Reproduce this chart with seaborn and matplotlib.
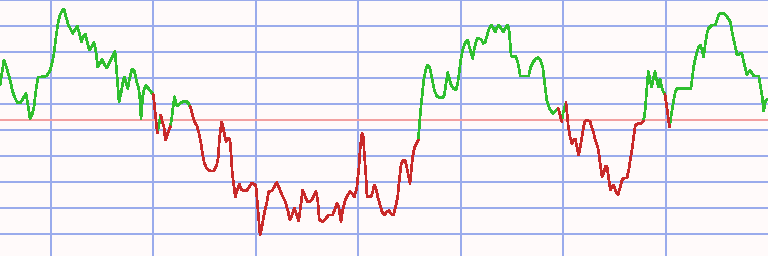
import numpy as np
import pandas as pd
import matplotlib
matplotlib.use("Agg")
import matplotlib.pyplot as plt
from matplotlib.ticker import MultipleLocator
import seaborn as sns

# ---- data (t = time position, v = value) ----
t = [0, 4, 6.7, 10, 12.7, 15, 17.3, 20.7, 24, 26, 28, 30, 32, 34, 36, 38, 46.7, 50, 52, 54,
     56, 58, 60, 62, 64, 66, 68.3, 70.7, 72.7, 75, 77.3, 79.3, 81.3, 83.3, 85.3, 87.3, 89.3, 91.7, 94, 96,
     97.7, 100, 102, 104.3, 106.7, 109, 111, 113.3, 115, 116.7, 119, 121, 122.7, 124.3, 126, 127.7, 130, 132, 134.3, 136.7,
     138.7, 140, 141, 142.7, 144.3, 146, 148.3, 151, 153.3, 157.3, 160.7, 162.3, 164, 165.3, 166.3, 167.7, 169, 170.3, 171.7, 173.3,
     174.5, 176, 177.3, 179, 181, 183.3, 186.7, 188.3, 190.3, 194.5, 196.7, 199, 201, 202.7, 204.3, 206.7, 210, 214, 216.7, 218.3,
     219.3, 220.7, 221.7, 223, 224.3, 226, 227.3, 228.7, 230, 231, 232.3, 234, 235.3, 237.3, 239.3, 241.7, 246.7, 249.3, 251.7, 254,
     256, 257.7, 260, 262, 264.3, 266.7, 268.7, 272, 274.3, 276.7, 279.3, 282, 285.3, 287.7, 290, 292.7, 294.3, 296.7, 298.7, 301,
     302.7, 305.3, 307.7, 311, 313.3, 316, 317.7, 319.3, 322.7, 326, 328.7, 332.7, 335.3, 337, 338.7, 341, 342.7, 345.3, 347.7, 350,
     352.7, 354.3, 356.7, 358.7, 360.3, 362, 363.3, 364.3, 366, 367, 371, 372.7, 374.3, 376, 377.7, 380, 382, 384.3, 386.7, 388.7,
     391, 393.3, 395.3, 397.7, 399.3, 401, 402.7, 405, 406.7, 408.3, 410, 411.3, 412.7, 414.3, 416.7, 418.3, 420.3, 422, 423.7, 426,
     427.7, 429.3, 431, 432.7, 434.3, 436.7, 439.3, 442.7, 444.3, 446, 447.7, 449.3, 451, 453.3, 456, 457.7, 459.3, 461, 462.7, 465,
     467.7, 469.3, 471, 472.7, 474.3, 476, 477.7, 481, 483.3, 485.3, 487.7, 489.3, 491, 493.3, 495.3, 496.7, 498.7, 501, 503.3, 505.3,
     507.7, 509.3, 511, 512, 516, 518, 520.3, 528.7, 530.3, 532.7, 535.3, 538, 540.3, 542.7, 544.3, 546.7, 549.3, 551.7, 553.3, 555,
     556.7, 558.3, 561.7, 563.3, 566, 568.3, 570, 572, 573.7, 575.3, 577, 578.7, 580.3, 582, 583.7, 585, 586.7, 590, 592, 593.7,
     595.3, 598, 599.3, 600.3, 602, 603.7, 605.3, 607, 608.7, 610.3, 612, 613.7, 615.3, 618, 620.3, 622, 623.7, 627, 628.7, 630.3,
     632, 633.7, 635.3, 638, 641, 643.5, 645, 646.7, 648.3, 650, 651.7, 653.3, 655, 656.7, 658.3, 660, 661.7, 663.3, 665, 669.5,
     672, 673.7, 675.3, 677, 691, 692, 693.7, 695.3, 697, 698.7, 700.3, 702, 703.7, 705.3, 707, 708.7, 710.3, 712, 715.3, 717,
     718.7, 720.3, 723.7, 727, 730.3, 732, 733.7, 735.3, 737, 738.7, 740.3, 742, 743.7, 745.3, 747, 748.7, 750.3, 752, 753.7, 758.7,
     760.3, 762, 763.7, 765.5, 768]

v = [45, 70, 61.7, 50, 38.3, 31.7, 27.7, 27.7, 33.3, 36.7, 25, 11.5, 15, 23.3, 40, 52.7, 54, 59.3, 66.7, 76.7,
     93.3, 106.7, 115, 119, 121, 113.3, 105, 100.7, 96.7, 100, 104, 96.7, 88.3, 93.3, 95.7, 88.3, 80, 83.3, 87.3, 78.3,
     63.3, 66.7, 70.7, 66, 62.3, 66.7, 70.7, 75, 78.3, 58.3, 28.3, 36.7, 46.7, 52.7, 47.3, 41.7, 53.3, 61, 59, 48.3,
     41.7, 30, 11.7, 33.3, 41.7, 44.3, 41.7, 38.3, 35.5, -3, 15, 8.3, 3.3, -10, -8.3, -3.3, 0, 3.3, 11.7, 25,
     33.3, 26.7, 24, 26, 27.3, 28.3, 28.3, 26.7, 23.3, 8, 5, -3.3, -13.3, -25, -33.3, -38.3, -41, -41, -35, -26.7,
     -10, 2, 8, 3, -3.3, -11.7, -10, -8.3, -10, -23.3, -43.3, -56.7, -66.7, -60, -54.3, -60, -60.7, -56.7, -53.3, -54,
     -56, -76.7, -105, -96.7, -83.3, -73.3, -61.7, -60.7, -56.7, -52.7, -58.3, -65, -71.7, -80, -90, -83.3, -78.3, -85, -90.7, -73.3,
     -60, -66.7, -71.7, -71, -66.7, -61.7, -70, -90, -91.7, -88.3, -85, -85, -78.3, -73.3, -76.7, -91.7, -80, -70, -65, -61.7,
     -64.3, -66.7, -58.3, -40, -16.7, -3.3, -6.7, -23.3, -46.7, -66.7, -66.7, -61.7, -55, -58.3, -66.7, -75, -81.7, -85, -81.7, -80.7,
     -83.3, -85, -78.3, -66.7, -50, -35, -31, -30, -36.7, -45, -53.3, -40, -26.7, -18.3, -12.7, -10, 16.7, 33.3, 50, 61.7,
     65, 63.3, 56.7, 48.3, 40, 34, 32.3, 32.3, 35, 46.7, 57.3, 51.7, 45, 41.7, 40, 46.7, 58.3, 71.7, 80, 86.7,
     90, 83.3, 76.7, 71.7, 81.7, 88.3, 91.7, 90.7, 86.7, 88.3, 96.7, 101.7, 105, 101.7, 98.3, 101.7, 105, 101.7, 98.3, 101.7,
     105, 98.3, 75, 73.3, 73.3, 66.7, 54, 54, 61.7, 67.3, 70.7, 72.7, 70, 63.3, 50, 30, 21.7, 18.3, 16.7, 18.3,
     20, 21.5, 8.5, 18, 27.3, 3.3, -6.7, -14, -10, -9, -17, -25, -17, -7, 4, 8.5, 9.5, 9, 1.7, -3.3,
     -10, -18.3, -26.7, -35, -46.7, -43.3, -36.7, -36.7, -48.3, -60, -56.7, -55, -60, -65, -56.7, -50, -48.3, -47.7, -40, -30,
     -20, -6.7, 5, 6.5, 6.5, 9, 18, 40, 58.3, 50, 43.3, 51.7, 58.3, 50, 43.3, 51, 43, 38.3, 36, 3,
     20, 30, 38.3, 41.7, 41.7, 50, 63.3, 71.7, 78.3, 83.3, 85, 80, 73.3, 86.7, 96.7, 101.7, 103.3, 105, 105, 110,
     115, 116.7, 116.7, 113.3, 108.3, 98.3, 90, 83.3, 75, 75, 76.7, 76.7, 68.3, 61.7, 55, 58.3, 59.3, 56.7, 54, 54,
     45, 35, 19, 29, 31]

threshold = 10

# ---- build colour runs: a segment takes the colour of the point it ends on ----
t_arr = np.asarray(t, dtype=float)
v_arr = np.asarray(v, dtype=float)
rows = []
run = 0
prev_state = None
for i in range(1, len(t_arr)):
    state = "up" if v_arr[i] > threshold else "down"
    if state != prev_state:
        run += 1
        rows.append((t_arr[i - 1], v_arr[i - 1], state, run))
        prev_state = state
    rows.append((t_arr[i], v_arr[i], state, run))
df = pd.DataFrame(rows, columns=["t", "v", "state", "run"])

# ---- styling ----
bg = "#fffafa"
grid_col = "#9aabec"
lw = 1.2  # renders as 2 px without antialiasing at 100 dpi
sns.set_theme(style="whitegrid", rc={
    "axes.facecolor": bg,
    "figure.facecolor": bg,
    "grid.color": grid_col,
    "grid.linewidth": lw,
    "axes.edgecolor": bg,
})

fig = plt.figure(figsize=(7.68, 2.56), dpi=100)
ax = fig.add_axes([0, 0, 1, 1])
ax.set_facecolor(bg)

ax.axhline(threshold, color="#f3a0a0", linewidth=lw, zorder=1.5, antialiased=False)

sns.lineplot(data=df, x="t", y="v", hue="state", units="run", estimator=None, sort=False,
             palette={"up": "#2fbf2f", "down": "#c92a2a"}, linewidth=lw, legend=False,
             antialiased=False, ax=ax, zorder=3)

ax.set_xlim(0, 768)
ax.set_ylim(-126, 130)
ax.xaxis.set_major_locator(MultipleLocator(102.45, offset=51))
ax.yaxis.set_major_locator(MultipleLocator(26))
ax.grid(True, which="major", color=grid_col, linewidth=lw, antialiased=False)
ax.set_axisbelow(True)
ax.tick_params(length=0, labelbottom=False, labelleft=False)
ax.set_xlabel("")
ax.set_ylabel("")
for s in ax.spines.values():
    s.set_visible(False)

fig.savefig("out.png", dpi=100, facecolor=bg)
